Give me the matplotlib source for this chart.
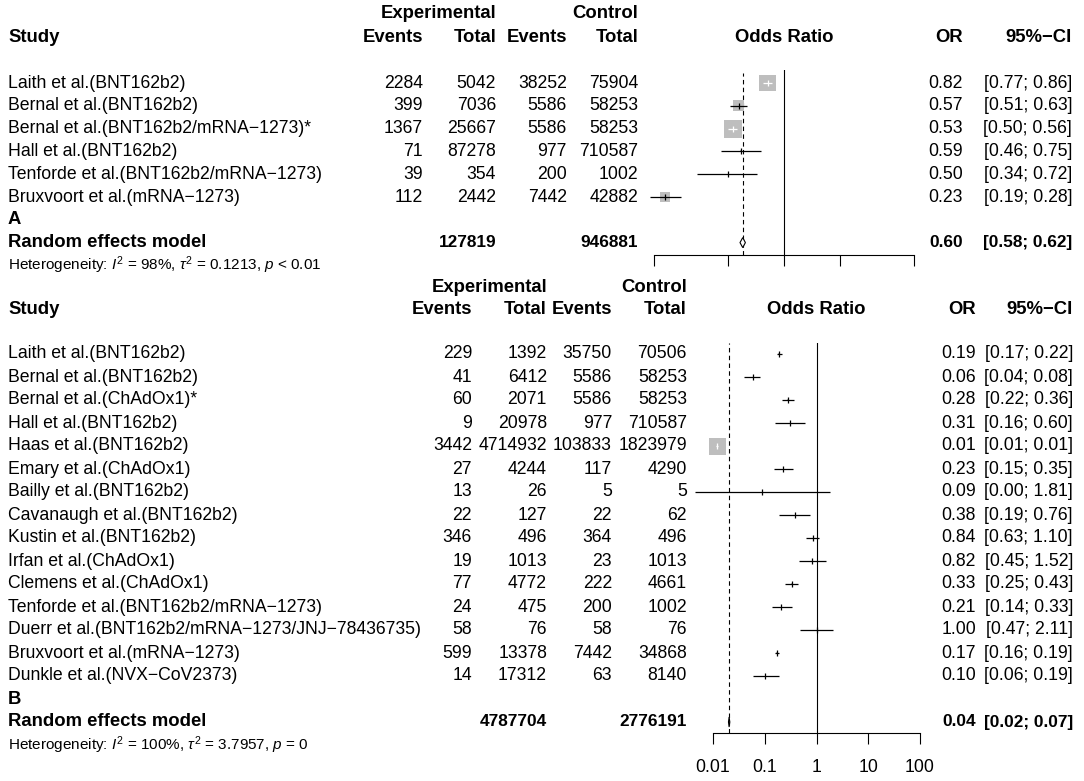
import numpy as np
import matplotlib.pyplot as plt
from matplotlib.ticker import NullLocator, FixedLocator

plt.rcParams['font.family'] = ['Liberation Sans', 'DejaVu Sans']
plt.rcParams['mathtext.fontset'] = 'custom'
plt.rcParams['mathtext.rm'] = 'Liberation Sans'
plt.rcParams['mathtext.it'] = 'Liberation Sans:italic'
plt.rcParams['mathtext.bf'] = 'Liberation Sans:bold'

# ---- panel A data ----
studies_a = ["Laith et al.(BNT162b2)", "Bernal et al.(BNT162b2)",
             "Bernal et al.(BNT162b2/mRNA\u22121273)*", "Hall et al.(BNT162b2)",
             "Tenforde et al.(BNT162b2/mRNA\u22121273)", "Bruxvoort et al.(mRNA\u22121273)"]
ev_exp_a = [2284, 399, 1367, 71, 39, 112]
tot_exp_a = [5042, 7036, 25667, 87278, 354, 2442]
ev_ctl_a = [38252, 5586, 5586, 977, 200, 7442]
tot_ctl_a = [75904, 58253, 58253, 710587, 1002, 42882]
or_a = [0.82, 0.57, 0.53, 0.59, 0.50, 0.23]
lo_a = [0.77, 0.51, 0.50, 0.46, 0.34, 0.19]
hi_a = [0.86, 0.63, 0.56, 0.75, 0.72, 0.28]
wt_a = [34.4, 14.4, 38.6, 0.5, 0.2, 11.9]   # box weights (%)
sum_tot_a = (127819, 946881)
pool_a = (0.60, 0.58, 0.62)
pool_mark_a = (0.60, 0.58, 0.62)
het_a = r"Heterogeneity: $I^2$ = 98%, $\tau^2$ = 0.1213, $p$ < 0.01"
ticks_a = [0.2, 0.5, 1, 2, 5]

# ---- panel B data ----
studies_b = ["Laith et al.(BNT162b2)", "Bernal et al.(BNT162b2)", "Bernal et al.(ChAdOx1)*",
             "Hall et al.(BNT162b2)", "Haas et al.(BNT162b2)", "Emary et al.(ChAdOx1)",
             "Bailly et al.(BNT162b2)", "Cavanaugh et al.(BNT162b2)", "Kustin et al.(BNT162b2)",
             "Irfan et al.(ChAdOx1)", "Clemens et al.(ChAdOx1)",
             "Tenforde et al.(BNT162b2/mRNA\u22121273)",
             "Duerr et al.(BNT162b2/mRNA\u22121273/JNJ\u221278436735)",
             "Bruxvoort et al.(mRNA\u22121273)", "Dunkle et al.(NVX\u2212CoV2373)"]
ev_exp_b = [229, 41, 60, 9, 3442, 27, 13, 22, 346, 19, 77, 24, 58, 599, 14]
tot_exp_b = [1392, 6412, 2071, 20978, 4714932, 4244, 26, 127, 496, 1013, 4772, 475, 76, 13378, 17312]
ev_ctl_b = [35750, 5586, 5586, 977, 103833, 117, 5, 22, 364, 23, 222, 200, 58, 7442, 63]
tot_ctl_b = [70506, 58253, 58253, 710587, 1823979, 4290, 5, 62, 496, 1013, 4661, 1002, 76, 34868, 8140]
or_b = [0.19, 0.06, 0.28, 0.31, 0.012, 0.23, 0.09, 0.38, 0.84, 0.82, 0.33, 0.21, 1.00, 0.17, 0.10]
lo_b = [0.17, 0.04, 0.22, 0.16, 0.0116, 0.15, 0.0045, 0.19, 0.63, 0.45, 0.25, 0.14, 0.47, 0.16, 0.06]
hi_b = [0.22, 0.08, 0.36, 0.60, 0.0125, 0.35, 1.81, 0.76, 1.10, 1.52, 0.43, 0.33, 2.11, 0.19, 0.19]
wt_b = [0.9, 0.6, 0.5, 0.05, 96.0, 0.15, 0.01, 0.1, 0.3, 0.1, 0.4, 0.15, 0.05, 1.5, 0.1]
sum_tot_b = (4787704, 2776191)
pool_b = (0.04, 0.02, 0.07)
pool_mark_b = (0.0205, 0.0199, 0.0211)   # where the summary is drawn in the figure
het_b = r"Heterogeneity: $I^2$ = 100%, $\tau^2$ = 3.7957, $p$ = 0"
ticks_b = [0.01, 0.1, 1, 10, 100]
tick_labels_b = ["0.01", "0.1", "1", "10", "100"]

W, H = 1084, 781
FS = 12.7
FSB = 13.3
FSS = 12.4   # bold summary numbers
FSH = 11

fig = plt.figure(figsize=(W / 100, H / 100), dpi=100)
bg = fig.add_axes([0, 0, 1, 1])
bg.set_xlim(0, W)
bg.set_ylim(H, 0)
bg.axis('off')


def txt(x, y, s, ha='left', bold=False, size=None):
    bg.text(x, y, s, ha=ha, va='center', fontsize=size or (FSB if bold else FS),
            fontweight='bold' if bold else 'normal')


def panel(studies, ev_e, tot_e, ev_c, tot_c, ors, los, his, wts, sum_tot, pool,
          pool_mark, het, letter, ticks, tick_labels, lay):
    n = len(studies)
    y = lambda i: lay['row0'] + lay['step'] * i
    c1, c2, c3, c4 = lay['cols']
    # header
    txt(c2, lay['h1'], "Experimental", 'right', True)
    txt(c4, lay['h1'], "Control", 'right', True)
    txt(8, lay['h2'], "Study", 'left', True)
    txt(c1, lay['h2'], "Events", 'right', True)
    txt(c2, lay['h2'], "Total", 'right', True)
    txt(c3, lay['h2'], "Events", 'right', True)
    txt(c4, lay['h2'], "Total", 'right', True)
    txt(lay['or_head'], lay['h2'], "Odds Ratio", 'center', True)
    txt(lay['or_col'], lay['h2'], "OR", 'right', True)
    txt(lay['ci_col'], lay['h2'], "95%\u2212CI", 'right', True)
    for i in range(n):
        txt(8, y(i), studies[i])
        txt(c1, y(i), str(ev_e[i]), 'right')
        txt(c2, y(i), str(tot_e[i]), 'right')
        txt(c3, y(i), str(ev_c[i]), 'right')
        txt(c4, y(i), str(tot_c[i]), 'right')
        txt(lay['or_col'], y(i), f"{ors[i]:.2f}", 'right')
        txt(lay['ci_col'], y(i), f"[{los[i]:.2f}; {his[i]:.2f}]", 'right')
    txt(8, y(n), letter, 'left', True)
    txt(8, y(n + 1), "Random effects model", 'left', True)
    txt(c2, y(n + 1), str(sum_tot[0]), 'right', True, FSS)
    txt(c4, y(n + 1), str(sum_tot[1]), 'right', True, FSS)
    txt(lay['or_col'], y(n + 1), f"{pool[0]:.2f}", 'right', True, FSS)
    txt(lay['ci_col'], y(n + 1), f"[{pool[1]:.2f}; {pool[2]:.2f}]", 'right', True, FSS)
    txt(8, y(n + 2), het, 'left', False, FSH)

    # forest axes
    x0, x1 = lay['ax_x']
    y0, y1 = lay['ax_y']
    ax = fig.add_axes([x0 / W, 1 - y1 / H, (x1 - x0) / W, (y1 - y0) / H])
    ax.set_xscale('log')
    ax.set_xlim(ticks[0], ticks[-1])
    ax.set_ylim((y1 - lay['row0']) / lay['step'], (y0 - lay['row0']) / lay['step'])
    ax.patch.set_visible(False)
    for s in ['top', 'right', 'left']:
        ax.spines[s].set_visible(False)
    ax.spines['bottom'].set_linewidth(0.8)
    ax.set_yticks([])
    ax.xaxis.set_major_locator(FixedLocator(ticks))
    ax.xaxis.set_minor_locator(NullLocator())
    ax.tick_params(axis='x', which='major', direction='out', length=7.9, width=0.8,
                   labelsize=FS, pad=lay['pad'])
    if tick_labels is None:
        ax.set_xticklabels([])
    else:
        ax.set_xticklabels(tick_labels)

    ax.axvline(1, color='black', lw=0.8)
    dash_top = lay.get('dash_top', y0)
    ax.axvline(pool_mark[0], ymin=0, ymax=(y1 - dash_top) / (y1 - y0), color='black',
               lw=0.8, linestyle=(0, (4, 3)))

    px_per_dec = (x1 - x0) / np.log10(ticks[-1] / ticks[0])
    wmax = max(wts)
    for i in range(n):
        side = lay['maxbox'] * np.sqrt(wts[i] / wmax)
        ci_px = px_per_dec * np.log10(his[i] / los[i])
        inside = side > ci_px
        col = 'white' if inside else 'black'
        if side > 0.5:
            ax.scatter([ors[i]], [i], marker='s', s=(side * 0.72) ** 2, color='#BEBEBE',
                       edgecolors='none', zorder=2, clip_on=False)
        ax.plot([los[i], his[i]], [i, i], color=col, lw=0.9, zorder=3, clip_on=False,
                solid_capstyle='butt')
        ax.plot([ors[i]], [i], marker='|', ms=4.3, mew=0.9, color=col, zorder=4,
                clip_on=False)
    # summary diamond
    h = 5 / lay['step']
    ys = n + 1
    ax.fill([pool_mark[1], pool_mark[0], pool_mark[2], pool_mark[0]],
            [ys, ys - h, ys, ys + h], facecolor='white', edgecolor='black', lw=0.8,
            zorder=5, clip_on=False)
    return ax


lay_a = dict(h1=13, h2=37, row0=83, step=22.8, cols=(423, 496, 567, 638),
             or_col=963, ci_col=1072, or_head=784, ax_x=(654, 914), ax_y=(70, 255),
             dash_top=73, maxbox=18, pad=4)
lay_b = dict(h1=287, h2=309, row0=354, step=23.0, cols=(472, 547, 612, 687),
             or_col=976, ci_col=1073, or_head=816, ax_x=(713, 920), ax_y=(343, 733),
             maxbox=17, pad=11)

panel(studies_a, ev_exp_a, tot_exp_a, ev_ctl_a, tot_ctl_a, or_a, lo_a, hi_a, wt_a,
      sum_tot_a, pool_a, pool_mark_a, het_a, "A", ticks_a, None, lay_a)
panel(studies_b, ev_exp_b, tot_exp_b, ev_ctl_b, tot_ctl_b, or_b, lo_b, hi_b, wt_b,
      sum_tot_b, pool_b, pool_mark_b, het_b, "B", ticks_b, tick_labels_b, lay_b)

fig.savefig("out.png", dpi=100)
